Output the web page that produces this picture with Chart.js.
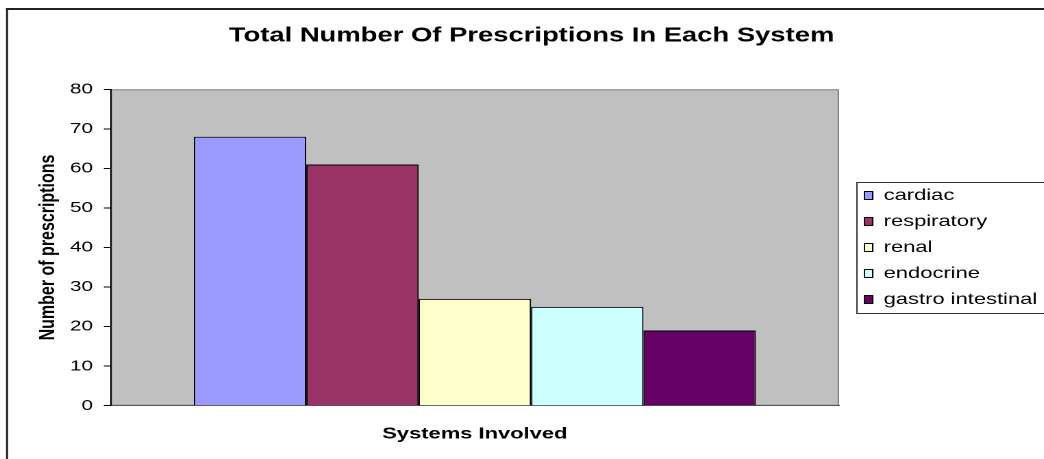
<!DOCTYPE html>
<html><head><meta charset="utf-8">
<script src="https://cdn.jsdelivr.net/npm/chart.js@4"></script>
<style>
html,body{margin:0;padding:0;background:#fff;overflow:hidden}
#wrap{position:absolute;left:0;top:0;width:762px;height:459px;transform:scaleX(1.37);transform-origin:0 0}
</style></head><body>
<div id="wrap"><canvas id="c" width="762" height="459"></canvas></div>
<script>
const chartTitle = 'Total Number Of Prescriptions In Each System';
const xAxisTitle = 'Systems Involved';
const yAxisTitle = 'Number of prescriptions';
const categories = [''];
const systems = ['cardiac', 'respiratory', 'renal', 'endocrine', 'gastro intestinal'];
const prescriptions = [68, 61, 27, 25, 19];
const yTicks = [0, 10, 20, 30, 40, 50, 60, 70, 80];
const colors = ['#9999FF', '#993366', '#FFFFCC', '#CCFFFF', '#660066'];

const FONT = "'Liberation Sans', Arial, sans-serif";

const datasets = systems.map((s, i) => ({
  label: s,
  data: [prescriptions[i]],
  backgroundColor: colors[i],
  borderColor: '#000',
  borderWidth: 1,
  categoryPercentage: 0.7717,
  barPercentage: 1.0
}));

const framePlugin = {
  id: 'frame',
  beforeLayout(chart) {
    const lg = chart.legend;
    if (lg && !lg._fixed) {
      lg._fixed = true;
      const origFit = lg.fit;
      lg.fit = function () { origFit.call(this); this.width = 141; };
    }
  },
  beforeDraw(chart) {
    const { ctx, chartArea: a } = chart;
    ctx.save();
    ctx.fillStyle = '#fff';
    ctx.fillRect(0, 0, chart.width, chart.height);
    ctx.fillStyle = '#C0C0C0';
    ctx.fillRect(a.left, a.top, a.right - a.left, a.bottom - a.top);
    ctx.strokeStyle = '#808080';
    ctx.lineWidth = 1;
    ctx.strokeRect(a.left + 0.5, a.top + 0.5, a.right - a.left - 1, a.bottom - a.top - 1);
    ctx.fillStyle = '#222';
    ctx.fillRect(4.4, 8, 1.5, chart.height);
    ctx.fillRect(4.4, 8, chart.width, 2);
    ctx.restore();
  },
  afterDraw(chart) {
    const { ctx, chartArea: a } = chart;
    const lg = chart.legend;
    const cy = (a.top + a.bottom) / 2;
    ctx.save();
    ctx.strokeStyle = '#333';
    ctx.lineWidth = 1;
    ctx.strokeRect(lg.left + 4.5, Math.round(cy - 65.5) + 0.5, 300, 131);
    ctx.restore();
  }
};

new Chart(document.getElementById('c'), {
  type: 'bar',
  data: { labels: categories, datasets },
  options: {
    responsive: false,
    devicePixelRatio: 2,
    animation: false,
    layout: { padding: { left: 14, right: 0, top: 0, bottom: 0 } },
    plugins: {
      title: {
        display: true,
        text: chartTitle,
        color: '#000',
        font: { family: FONT, size: 20, weight: 'bold' },
        padding: { top: 24, bottom: 41.3 }
      },
      legend: {
        position: 'right',
        fullSize: false,
        labels: {
          color: '#000',
          font: { family: FONT, size: 16 },
          boxWidth: 6,
          boxHeight: 8,
          padding: 10
        }
      },
      tooltip: { enabled: false }
    },
    scales: {
      x: {
        grid: { display: false },
        ticks: { display: false },
        border: { display: true, color: '#555', width: 1 },
        title: {
          display: true,
          text: xAxisTitle,
          color: '#000',
          font: { family: FONT, size: 16, weight: 'bold' },
          padding: { top: 0, bottom: 15.4 }
        },
        afterFit(s) { s.height = 53.3; }
      },
      y: {
        min: yTicks[0],
        max: yTicks[yTicks.length - 1],
        ticks: {
          stepSize: yTicks[1] - yTicks[0],
          color: '#000',
          font: { family: FONT, size: 15 },
          padding: 8
        },
        grid: { drawOnChartArea: false, drawTicks: true, tickLength: 5, color: '#000', lineWidth: 1 },
        border: { display: true, color: '#000', width: 1 },
        title: {
          display: true,
          text: yAxisTitle,
          color: '#000',
          font: { family: FONT, size: 16, weight: 'bold' },
          padding: { top: 11.7, bottom: 0 }
        },
        afterFit(s) { s.width = 66.8; }
      },
      y2: {
        type: 'linear',
        position: 'right',
        display: true,
        grid: { display: false },
        ticks: { display: false },
        border: { display: false },
        afterFit(s) { s.width = 8.6; }
      }
    }
  },
  plugins: [framePlugin]
});
</script>
</body></html>
